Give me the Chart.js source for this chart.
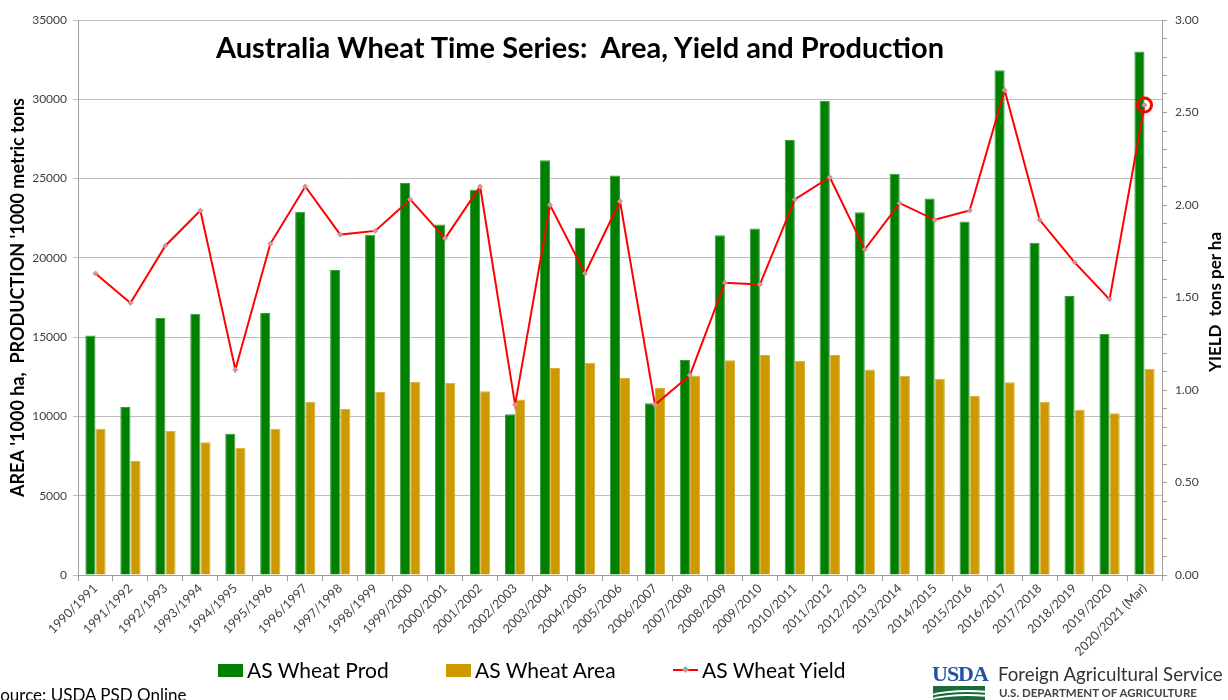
<!DOCTYPE html>
<html>
<head>
<meta charset="utf-8">
<script src="https://cdn.jsdelivr.net/npm/chart.js@4.4.1/dist/chart.umd.min.js"></script>
<style>
  body { margin: 0; background: #fff; font-family: Lato, "Liberation Sans", sans-serif; }
  #wrap { position: relative; width: 1228px; height: 700px; overflow: hidden; }
  #title { position: absolute; left: 0; top: 30px; width: 1160px; text-align: center;
           font-size: 29px; font-weight: bold; line-height: 34px; color: #000; }
  #y2_title { position: absolute; left: 1065px; top: 291px; width: 300px; text-align: center;
              font-size: 17px; font-weight: bold; line-height: 22px; transform: rotate(-90deg); }
  .leg { position: absolute; top: 657px; font-size: 21px; line-height: 26px; color: #000; white-space: nowrap; }
  .leg .box { display: inline-block; width: 25px; height: 13px; margin-right: 4px; vertical-align: 1px; }
  .leg .ln { display: inline-block; position: relative; width: 25px; height: 13px; margin-right: 4px; vertical-align: 1px; }
  .leg .ln i { position: absolute; left: 0; top: 5px; width: 25px; height: 2px; background: #ff0000; }
  .leg .ln b { position: absolute; left: 10px; top: 3px; width: 5px; height: 5px; background: #b4a0a0; transform: rotate(45deg); }
  #source { position: absolute; left: -9px; top: 684px; font-size: 17px; color: #000; }
  #usda { position: absolute; left: 932px; top: 662px; font-family: "Liberation Serif", serif; font-weight: bold;
          font-size: 22px; letter-spacing: -1px; color: #2152a3; line-height: 24px; }
  #swoosh { position: absolute; left: 933px; top: 686px; width: 52px; height: 14px; background: #1c6a3c; overflow: hidden; }
  #swoosh span { position: absolute; left: -20px; width: 110px; height: 30px; border-top: 2px solid #fff; border-radius: 50%; }
  #fas { position: absolute; left: 998px; top: 662px; font-size: 18.7px; color: #333; line-height: 24px; white-space: nowrap; }
  #usdept { position: absolute; left: 999px; top: 686px; font-size: 11.5px; font-weight: bold; color: #444; white-space: nowrap; }
</style>
</head>
<body>
<div id="wrap">
  <canvas id="wheat_chart" width="1228" height="700"></canvas>
  <div id="title">Australia Wheat Time Series:&nbsp; Area, Yield and Production</div>
  <div id="y2_title">YIELD&nbsp; tons per ha</div>
  <div id="legend"></div>
  <div id="source">Source: USDA PSD Online</div>
  <div id="usda">USDA</div>
  <div id="swoosh"><span style="top:4px"></span><span style="top:8px"></span></div>
  <div id="fas">Foreign Agricultural Service</div>
  <div id="usdept">U.S. DEPARTMENT OF AGRICULTURE</div>
</div>
<script>
const seasons = [
  "1990/1991", "1991/1992", "1992/1993", "1993/1994", "1994/1995", "1995/1996",
  "1996/1997", "1997/1998", "1998/1999", "1999/2000", "2000/2001", "2001/2002",
  "2002/2003", "2003/2004", "2004/2005", "2005/2006", "2006/2007", "2007/2008",
  "2008/2009", "2009/2010", "2010/2011", "2011/2012", "2012/2013", "2013/2014",
  "2014/2015", "2015/2016", "2016/2017", "2017/2018", "2018/2019", "2019/2020",
  "2020/2021 (Mar)"
];

// '1000 metric tons
const production = [
  15100, 10600, 16200, 16480, 8900, 16520, 22900, 19230, 21460, 24720, 22100,
  24300, 10130, 26150, 21900, 25190, 10830, 13560, 21420, 21850, 27440, 29900,
  22870, 25310, 23740, 22290, 31830, 20960, 17600, 15200, 33020
];

// '1000 ha
const area = [
  9230, 7190, 9100, 8370, 8030, 9230, 10930, 10470, 11540, 12170, 12130,
  11580, 11060, 13060, 13390, 12420, 11800, 12570, 13540, 13870, 13490, 13870,
  12960, 12570, 12380, 11290, 12160, 10930, 10420, 10200, 13000
];

// tons per ha
const yield_values = [
  1.63, 1.47, 1.78, 1.97, 1.11, 1.79, 2.10, 1.84, 1.86, 2.03, 1.82,
  2.10, 0.92, 2.00, 1.63, 2.02, 0.92, 1.08, 1.58, 1.57, 2.03, 2.15,
  1.76, 2.01, 1.92, 1.97, 2.62, 1.92, 1.69, 1.49, 2.54
];

const left_ticks = [0, 35000, 5000];   // min, max, step
const right_ticks = [0, 3, 0.1];

const legend_items = [
  { label: "AS Wheat Prod", color: "#008000", kind: "box", x: 218 },
  { label: "AS Wheat Area", color: "#cc9900", kind: "box", x: 446 },
  { label: "AS Wheat Yield", color: "#ff0000", kind: "line", x: 673 },
];

const font_family = "Lato, 'Liberation Sans', sans-serif";
const tick_color = "#404040";
const grid_color = "#bdbdbd";
const axis_color = "#9d9d9d";

// only the last season is circled
const circled = yield_values.map((v, i) => (i === yield_values.length - 1 ? v : null));

const data = {
  labels: seasons,
  datasets: [
    {
      type: "line",
      label: "circle",
      data: circled,
      yAxisID: "y2",
      showLine: false,
      pointRadius: 7,
      pointBorderWidth: 3,
      pointBorderColor: "#ff0000",
      pointBackgroundColor: "rgba(0,0,0,0)",
      order: 0,
    },
    {
      type: "line",
      label: "AS Wheat Yield",
      data: yield_values,
      yAxisID: "y2",
      borderColor: "#ff0000",
      borderWidth: 2,
      pointStyle: "rectRot",
      pointRadius: 2.5,
      pointBackgroundColor: "#b4a0a0",
      pointBorderColor: "#f08a8a",
      pointBorderWidth: 1,
      tension: 0,
      order: 1,
    },
    {
      type: "bar",
      label: "AS Wheat Prod",
      data: production,
      yAxisID: "y",
      backgroundColor: "#008000",
      borderColor: "#3c9a3c",
      borderWidth: 1,
      order: 2,
    },
    {
      type: "bar",
      label: "AS Wheat Area",
      data: area,
      yAxisID: "y",
      backgroundColor: "#cc9900",
      borderColor: "#d9ae3a",
      borderWidth: 1,
      order: 2,
    },
  ],
};

const config = {
  type: "bar",
  data: data,
  options: {
    responsive: false,
    animation: false,
    layout: { padding: { top: 20, left: 0, right: 0, bottom: 0 } },
    datasets: {
      bar: { categoryPercentage: 0.58, barPercentage: 1.0 },
    },
    plugins: {
      legend: { display: false },
      tooltip: { enabled: false },
    },
    scales: {
      x: {
        grid: { drawOnChartArea: false, tickLength: 6, color: axis_color, offset: true },
        border: { color: axis_color },
        ticks: {
          autoSkip: false,
          minRotation: 45,
          maxRotation: 45,
          padding: 0,
          color: tick_color,
          font: { family: font_family, size: 12.5 },
        },
        afterFit: (scale) => { scale.height = 125; },
      },
      y: {
        position: "left",
        min: left_ticks[0],
        max: left_ticks[1],
        ticks: {
          stepSize: left_ticks[2],
          padding: 6,
          color: tick_color,
          font: { family: font_family, size: 12 },
          callback: (v) => String(v),
        },
        grid: { color: grid_color, tickLength: 5 },
        border: { color: axis_color },
        title: {
          display: true,
          text: "AREA '1000 ha,  PRODUCTION '1000 metric tons",
          color: "#000",
          font: { family: font_family, size: 18, weight: "bold" },
          padding: { top: 7, bottom: 0 },
        },
        afterFit: (scale) => { scale.width = 78; },
      },
      y2: {
        position: "right",
        min: right_ticks[0],
        max: right_ticks[1],
        ticks: {
          stepSize: right_ticks[2],
          autoSkip: false,
          padding: 8,
          color: tick_color,
          font: { family: font_family, size: 12 },
          callback: (v) => {
            const half = v * 2;
            return Math.abs(half - Math.round(half)) < 1e-6 ? Number(v).toFixed(2) : "";
          },
        },
        grid: { drawOnChartArea: false, tickLength: 5, color: axis_color },
        border: { color: axis_color },
        afterFit: (scale) => { scale.width = 66; },
      },
    },
  },
};

new Chart(document.getElementById("wheat_chart"), config);

// legend built from the same labels and colours
const legend_div = document.getElementById("legend");
legend_items.forEach((item) => {
  const el = document.createElement("div");
  el.className = "leg";
  el.style.left = item.x + "px";
  const mark = item.kind === "box"
    ? '<span class="box" style="background:' + item.color + '"></span>'
    : '<span class="ln"><i></i><b></b></span>';
  el.innerHTML = mark + item.label;
  legend_div.appendChild(el);
});
</script>
</body>
</html>
